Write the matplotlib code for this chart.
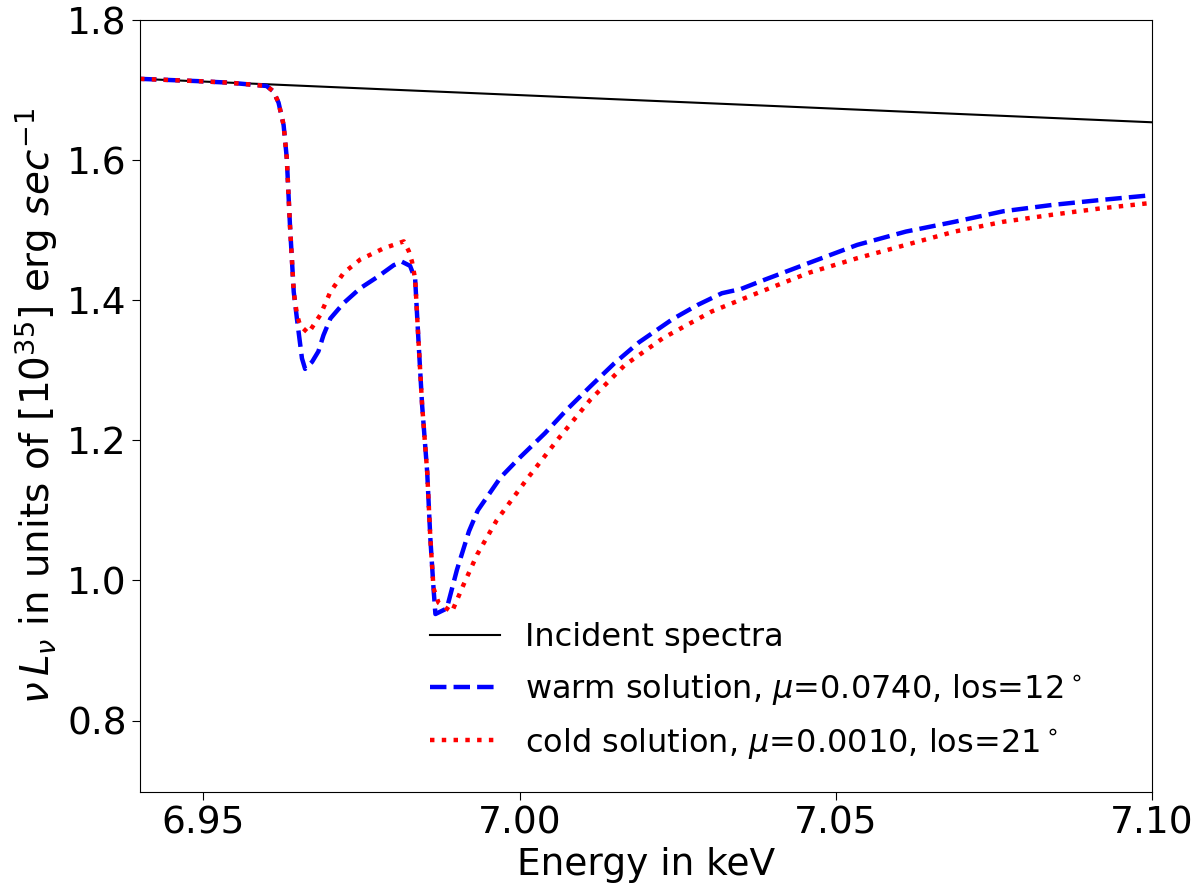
import matplotlib
matplotlib.use("Agg")
import matplotlib.pyplot as plt
import numpy as np

# Incident spectrum
inc_E = [6.94, 6.96, 6.98, 7.00, 7.02, 7.04, 7.06, 7.08, 7.10]
inc_L = [1.716, 1.7083, 1.7005, 1.6928, 1.685, 1.6773, 1.6695, 1.6618, 1.654]

# Warm solution
warm_E = [6.94, 6.949, 6.9542, 6.96, 6.9611, 6.9619, 6.9627, 6.9632, 6.9637, 6.9643,
          6.9648, 6.9656, 6.9661, 6.9672, 6.9682, 6.9690, 6.9701, 6.9722, 6.9748,
          6.9775, 6.9801, 6.9814, 6.9827, 6.9835, 6.9840, 6.9846, 6.9854, 6.9859,
          6.9864, 6.9867, 6.9885, 6.9901, 6.9920, 6.9934, 6.9970, 7.0000, 7.0040,
          7.0075, 7.0112, 7.0150, 7.0189, 7.0242, 7.0281, 7.0320, 7.0350, 7.0381,
          7.0457, 7.0534, 7.0611, 7.0688, 7.0765, 7.0842, 7.0918, 7.1000]
warm_L = [1.716, 1.7128, 1.7105, 1.7058, 1.698, 1.682, 1.650, 1.603, 1.508, 1.412,
          1.374, 1.317, 1.302, 1.312, 1.327, 1.350, 1.374, 1.396, 1.417,
          1.433, 1.450, 1.455, 1.449, 1.430, 1.346, 1.250, 1.155, 1.060,
          0.989, 0.952, 0.960, 1.015, 1.070, 1.100, 1.147, 1.175, 1.210,
          1.244, 1.277, 1.310, 1.340, 1.373, 1.393, 1.410, 1.416, 1.427,
          1.453, 1.479, 1.498, 1.512, 1.527, 1.536, 1.543, 1.550]

# Cold solution
cold_E = [6.94, 6.949, 6.9542, 6.96, 6.9611, 6.9619, 6.9627, 6.9632, 6.9637, 6.9643,
          6.9648, 6.9653, 6.9666, 6.9685, 6.9701, 6.9722, 6.9748, 6.9785, 6.9817,
          6.9825, 6.9830, 6.9835, 6.9840, 6.9846, 6.9854, 6.9859, 6.9864, 6.9872,
          6.9893, 6.9912, 6.9933, 6.9964, 7.0012, 7.0062, 7.0112, 7.0166, 7.0227,
          7.0304, 7.0381, 7.0457, 7.0534, 7.0611, 7.0688, 7.0765, 7.0842, 7.0918,
          7.1000]
cold_L = [1.716, 1.7128, 1.7105, 1.7058, 1.698, 1.682, 1.650, 1.603, 1.508, 1.412,
          1.380, 1.364, 1.353, 1.379, 1.412, 1.439, 1.458, 1.474, 1.484,
          1.470, 1.455, 1.430, 1.346, 1.250, 1.155, 1.060, 0.989, 0.968,
          0.955, 0.995, 1.037, 1.086, 1.145, 1.203, 1.258, 1.307, 1.346,
          1.384, 1.412, 1.439, 1.460, 1.479, 1.498, 1.512, 1.522, 1.531,
          1.539]

fig = plt.figure(figsize=(12, 8.93), dpi=100)
ax = fig.add_axes([0.1167, 0.1131, 0.8433, 0.8645])

ax.plot(inc_E, inc_L, color="black", lw=1.5, label="Incident spectra")
ax.plot(warm_E, warm_L, color="blue", lw=3.2, ls=(0, (3.7, 1.6)),
        label=r"warm solution, $\mu$=0.0740, los=12$^\circ$")
ax.plot(cold_E, cold_L, color="red", lw=3.2, ls=(0, (1, 1.65)),
        label=r"cold solution, $\mu$=0.0010, los=21$^\circ$")

ax.set_xlim(6.94, 7.10)
ax.set_ylim(0.698, 1.8)
ax.set_xticks([6.95, 7.00, 7.05, 7.10])
ax.set_xticklabels(["6.95", "7.00", "7.05", "7.10"])
ax.set_yticks([0.8, 1.0, 1.2, 1.4, 1.6, 1.8])
ax.tick_params(labelsize=27, length=6)
ax.set_xlabel("Energy in keV", fontsize=27, labelpad=4)
ax.set_ylabel(r"$\nu\,L_\nu$ in units of [$10^{35}$] erg $sec^{-1}$", fontsize=28,
              labelpad=5)

ax.legend(loc="lower left", bbox_to_anchor=(0.258, 0.0035), frameon=False,
          fontsize=23, handlelength=2.2, handletextpad=0.78, labelspacing=0.59)

fig.savefig("out.png", dpi=100)
